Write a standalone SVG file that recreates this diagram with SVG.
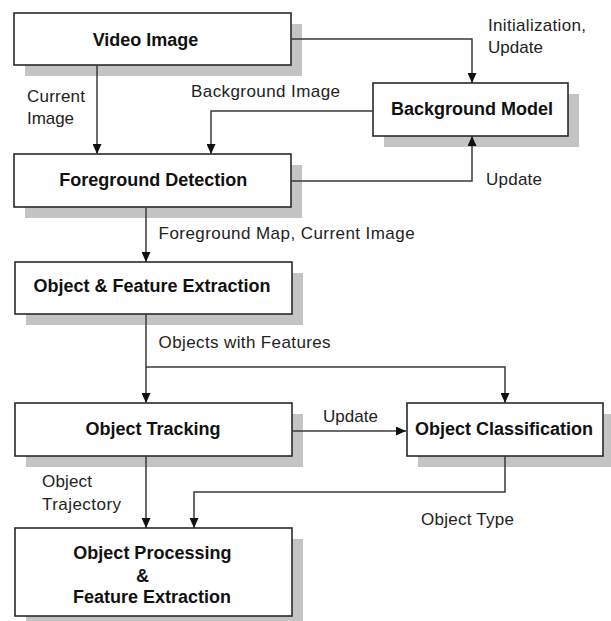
<svg xmlns="http://www.w3.org/2000/svg" width="611" height="621" viewBox="0 0 611 621">
<style>
.box{fill:#fff;stroke:#2a2a2a;stroke-width:1.6}
.sh{fill:#c4c4c4}
.t{font-family:"Liberation Sans",Arial,sans-serif;font-weight:bold;font-size:18px;fill:#111;text-anchor:middle}
.l{font-family:"Liberation Sans",Arial,sans-serif;font-size:17px;fill:#222}
.c{fill:none;stroke:#3a3a3a;stroke-width:1.5}
</style>
<defs>
<marker id="arr" viewBox="0 0 10 9" refX="10" refY="4.5" markerWidth="10" markerHeight="9" markerUnits="userSpaceOnUse" orient="auto">
<path d="M0,0 L10,4.5 L0,9 z" fill="#111"/>
</marker>
</defs>
<rect width="611" height="621" fill="#fff"/>
<g id="video-image">
<rect class="sh" x="25" y="24" width="277" height="52"/>
<rect class="box" x="14" y="13" width="277" height="52"/>
<text class="t" x="145.5" y="46">Video Image</text>
</g>
<g id="background-model">
<rect class="sh" x="384" y="94" width="195" height="53"/>
<rect class="box" x="373" y="83" width="195" height="53"/>
<text class="t" x="472" y="115">Background Model</text>
</g>
<g id="foreground-detection">
<rect class="sh" x="25" y="165" width="277" height="53"/>
<rect class="box" x="14" y="154" width="277" height="53"/>
<text class="t" x="153.3" y="186">Foreground Detection</text>
</g>
<g id="object-feature-extraction">
<rect class="sh" x="26" y="273" width="277" height="52"/>
<rect class="box" x="15" y="262" width="277" height="52"/>
<text class="t" x="152" y="292">Object &amp; Feature Extraction</text>
</g>
<g id="object-tracking">
<rect class="sh" x="26" y="414" width="277" height="53"/>
<rect class="box" x="15" y="403" width="277" height="53"/>
<text class="t" x="153" y="435">Object Tracking</text>
</g>
<g id="object-classification">
<rect class="sh" x="418" y="414" width="196" height="53"/>
<rect class="box" x="407" y="403" width="196" height="53"/>
<text class="t" x="504" y="435">Object Classification</text>
</g>
<g id="object-processing">
<rect class="sh" x="26" y="539" width="277" height="89"/>
<rect class="box" x="15" y="528" width="277" height="88"/>
<text class="t" x="152.4" y="559">Object Processing</text>
<text class="t" x="142.5" y="582">&amp;</text>
<text class="t" x="152" y="603">Feature Extraction</text>
</g>
<g id="connectors">
<path class="c" d="M97,65 V154" marker-end="url(#arr)"/>
<path class="c" d="M291,39 H472 V83" marker-end="url(#arr)"/>
<path class="c" d="M373,111 H211 V154" marker-end="url(#arr)"/>
<path class="c" d="M291,181 H472 V136" marker-end="url(#arr)"/>
<path class="c" d="M146,207 V262" marker-end="url(#arr)"/>
<path class="c" d="M146,314 V403" marker-end="url(#arr)"/>
<path class="c" d="M146,367 H505 V403" marker-end="url(#arr)"/>
<path class="c" d="M292,431 H406" marker-end="url(#arr)"/>
<path class="c" d="M146,456 V528" marker-end="url(#arr)"/>
<path class="c" d="M505,456 V492 H194 V528" marker-end="url(#arr)"/>
</g>
<g id="labels">
<text class="l" x="488" y="31" textLength="98" lengthAdjust="spacing">Initialization,</text>
<text class="l" x="488" y="53" textLength="55" lengthAdjust="spacing">Update</text>
<text class="l" x="27" y="102" textLength="58" lengthAdjust="spacing">Current</text>
<text class="l" x="27" y="124" textLength="47" lengthAdjust="spacing">Image</text>
<text class="l" x="191" y="97" textLength="149" lengthAdjust="spacing">Background Image</text>
<text class="l" x="486" y="185" textLength="56" lengthAdjust="spacing">Update</text>
<text class="l" x="158.6" y="239" textLength="256" lengthAdjust="spacing">Foreground Map, Current Image</text>
<text class="l" x="158.6" y="348" textLength="172" lengthAdjust="spacing">Objects with Features</text>
<text class="l" x="323" y="422" textLength="55" lengthAdjust="spacing">Update</text>
<text class="l" x="42" y="487" textLength="50" lengthAdjust="spacing">Object</text>
<text class="l" x="42" y="510" textLength="79" lengthAdjust="spacing">Trajectory</text>
<text class="l" x="421" y="525" textLength="93" lengthAdjust="spacing">Object Type</text>
</g>
</svg>
